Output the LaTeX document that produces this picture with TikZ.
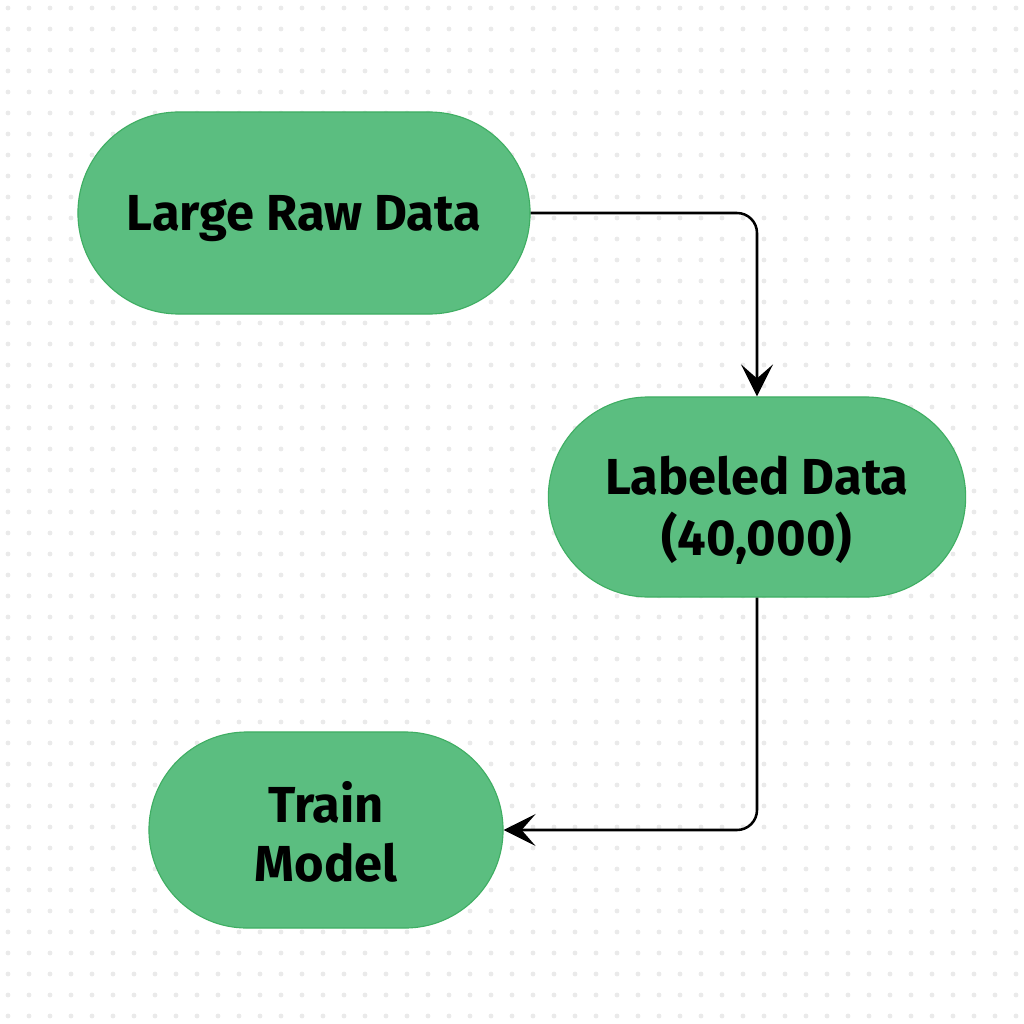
\documentclass[tikz,border=0pt]{standalone}
\usepackage{fontspec}
\setmainfont{Fira Sans}
\usetikzlibrary{arrows.meta,shapes.misc}

\definecolor{boxgreen}{HTML}{5BBE80}
\definecolor{boxedge}{HTML}{3FAE63}
\definecolor{dotgray}{HTML}{EAEAEA}

% text block moved down inside its stage
\newcommand{\lowered}[2]{\raisebox{-#1}[\height][\depth]{\begin{tabular}{@{}c@{}}#2\end{tabular}}}

\begin{document}
\begin{tikzpicture}[x=0.025cm, y=-0.025cm,
    stage/.style={shape=rounded rectangle, draw=boxedge, fill=boxgreen, line width=0.8pt,
        inner sep=0pt, font=\fontsize{36}{42}\selectfont\bfseries},
    flow/.style={line width=1.8pt, rounded corners=0.5cm,
        -{Stealth[length=0.8cm, width=0.8cm, inset=0.35cm]}}]

    % page and dotted grid
    \fill[white] (0,0) rectangle (1024,1024);
    \useasboundingbox (0,0) rectangle (1024,1024);
    \foreach \i in {0,...,48} {
        \foreach \j in {0,...,48} {
            \fill[dotgray] (8+21*\i,8+21*\j) circle (2.4);
        }
    }

    % stages
    \node[stage, minimum width=11.3cm, minimum height=5.05cm] (raw) at (304,213)
        {\lowered{4pt}{Large Raw Data}};
    \node[stage, minimum width=10.43cm, minimum height=5cm] (lab) at (757,497)
        {\lowered{11.5pt}{Labeled Data\\(40,000)}};
    \node[stage, minimum width=8.85cm, minimum height=4.9cm] (train) at (326,830)
        {\lowered{7.5pt}{Train\\Model}};

    % connectors
    \draw[flow] (raw.east) -| (lab.north);
    \draw[flow] (lab.south) |- (train.east);

\end{tikzpicture}
\end{document}
